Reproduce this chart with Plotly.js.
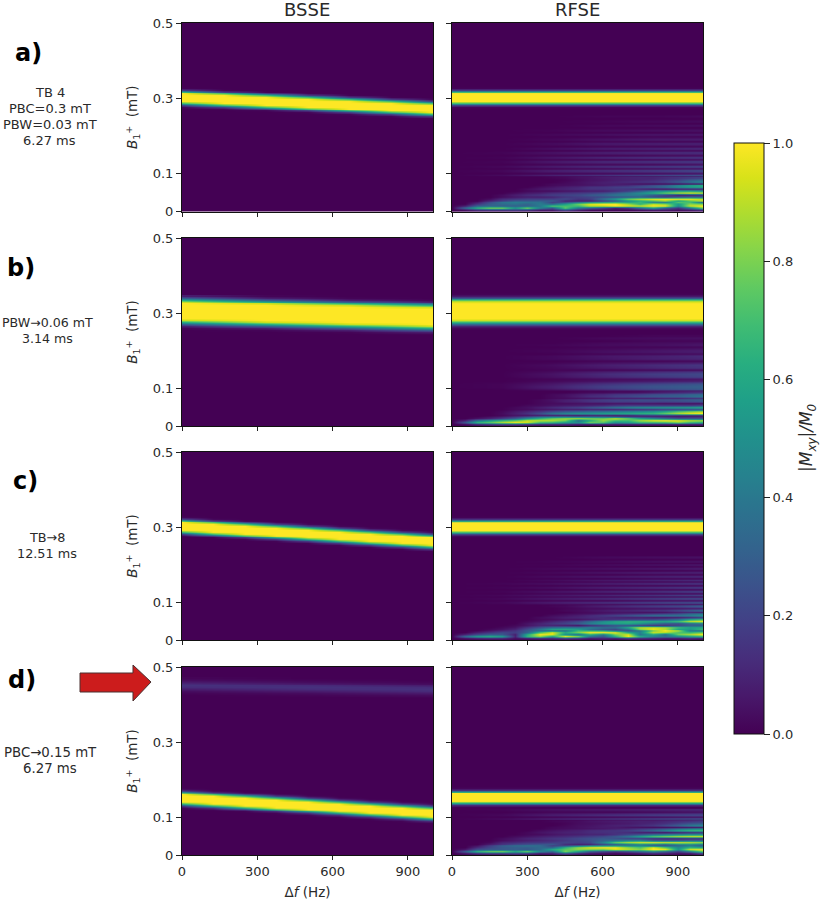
<!DOCTYPE html>
<html>
<head>
<meta charset="utf-8">
<script src="https://cdn.plot.ly/plotly-3.0.1.min.js"></script>
<style>html,body{margin:0;padding:0;background:#fff}</style>
</head>
<body>
<div id="chart" style="width:823px;height:900px"></div>
<script>
// ---- shared tick values and labels ----
const xTicks = [0, 300, 600, 900];
const yTicks = [0, 0.1, 0.3, 0.5];
const yTickLabels = ['0', '0.1', '0.3', '0.5'];
const cbarTicks = [0, 0.2, 0.4, 0.6, 0.8, 1];
const columnTitles = ['BSSE', 'RFSE'];
const rowTags = ['a)', 'b)', 'c)', 'd)'];
const rowNotes = [['TB 4', 'PBC=0.3 mT', 'PBW=0.03 mT', '6.27 ms'], ['PBW→0.06 mT', '3.14 ms'], ['TB→8', '12.51 ms'], ['PBC→0.15 mT', '6.27 ms']];

// ---- BSSE panels: |Mxy|/M0 in percent ----
const bsseAx = [0, 167, 333, 500, 667, 833, 1000];
const bsseAy = [.243,.248,.253,.258,.263,.268,.273,.278,.283,.288,.293,.298,.303,.308,.313,.318,.323,.328,.333];
const bsseAz = [
[0,0,0,0,0,0,0],
[0,0,0,0,0,0,1],
[0,0,0,0,0,1,18],
[0,0,0,0,1,18,70],
[0,0,0,1,18,70,100],
[0,0,1,18,70,100,100],
[0,1,18,70,100,100,100],
[1,18,70,100,100,100,100],
[18,70,100,100,100,100,100],
[70,100,100,100,100,100,70],
[100,100,100,100,100,70,18],
[100,100,100,100,70,18,1],
[100,100,100,70,18,1,0],
[100,100,70,18,1,0,0],
[100,70,18,1,0,0,0],
[70,18,1,0,0,0,0],
[18,1,0,0,0,0,0],
[1,0,0,0,0,0,0],
[0,0,0,0,0,0,0]];

const bsseBx = [0, 333, 667, 1000];
const bsseBy = [.241,.246,.251,.256,.261,.266,.271,.276,.281,.286,.291,.296,.301,.306,.311,.316,.321,.326,.331,.336,.341,.346];
const bsseBz = [
[0,0,0,0],
[0,0,0,1],
[0,0,1,8],
[0,1,8,30],
[1,8,30,62],
[8,30,62,92],
[30,62,92,100],
[62,92,100,100],
[92,100,100,100],
[100,100,100,100],
[100,100,100,100],
[100,100,100,100],
[100,100,100,100],
[100,100,100,100],
[100,100,100,100],
[100,100,100,92],
[100,100,92,62],
[100,92,62,30],
[92,62,30,8],
[62,30,8,1],
[30,8,1,0],
[8,1,0,0]];

const bsseCx = [0, 125, 250, 375, 500, 625, 750, 875, 1000];
const bsseCy = [.233,.238,.243,.248,.253,.258,.263,.268,.273,.278,.283,.288,.293,.298,.303,.308,.313,.318,.323,.328,.333];
const bsseCz = [
[0,0,0,0,0,0,0,0,0],
[0,0,0,0,0,0,0,0,1],
[0,0,0,0,0,0,0,1,18],
[0,0,0,0,0,0,1,18,70],
[0,0,0,0,0,1,18,70,100],
[0,0,0,0,1,18,70,100,100],
[0,0,0,1,18,70,100,100,100],
[0,0,1,18,70,100,100,100,100],
[0,1,18,70,100,100,100,100,100],
[1,18,70,100,100,100,100,100,70],
[18,70,100,100,100,100,100,70,18],
[70,100,100,100,100,100,70,18,1],
[100,100,100,100,100,70,18,1,0],
[100,100,100,100,70,18,1,0,0],
[100,100,100,70,18,1,0,0,0],
[100,100,70,18,1,0,0,0,0],
[100,70,18,1,0,0,0,0,0],
[70,18,1,0,0,0,0,0,0],
[18,1,0,0,0,0,0,0,0],
[1,0,0,0,0,0,0,0,0],
[0,0,0,0,0,0,0,0,0]];

const bsseDx = [0, 125, 250, 375, 500, 625, 750, 875, 1000];
const bsseDy = [.082,.087,.092,.097,.102,.107,.112,.117,.122,.127,.132,.137,.142,.147,.152,.157,.162,.167,.172,.177,.182];
const bsseDz = [
[0,0,0,0,0,0,0,0,0],
[0,0,0,0,0,0,0,0,1],
[0,0,0,0,0,0,0,1,15],
[0,0,0,0,0,0,1,15,65],
[0,0,0,0,0,1,15,65,100],
[0,0,0,0,1,15,65,100,100],
[0,0,0,1,15,65,100,100,100],
[0,0,1,15,65,100,100,100,100],
[0,1,15,65,100,100,100,100,100],
[1,15,65,100,100,100,100,100,65],
[15,65,100,100,100,100,100,65,15],
[65,100,100,100,100,100,65,15,1],
[100,100,100,100,100,65,15,1,0],
[100,100,100,100,65,15,1,0,0],
[100,100,100,65,15,1,0,0,0],
[100,100,65,15,1,0,0,0,0],
[100,65,15,1,0,0,0,0,0],
[65,15,1,0,0,0,0,0,0],
[15,1,0,0,0,0,0,0,0],
[1,0,0,0,0,0,0,0,0],
[0,0,0,0,0,0,0,0,0]];

// faint extra band near 0.45 mT in panel d
const ghostX = [0, 500, 1000];
const ghostY = [.421,.426,.431,.436,.441,.446,.451,.456,.461,.466,.471];
const ghostZ = [
[0,0,1],[0,1,3],[1,3,7],[3,7,12],[7,12,14],[12,14,12],[14,12,7],[12,7,3],[7,3,1],[3,1,0],[1,0,0]];

// ---- RFSE main bands: flat in frequency, one profile each ----
const flatX = [0, 1000];
const bandAy = [.273,.278,.283,.288,.293,.298,.303,.308,.313,.318,.323,.328,.333];
const bandAz = [0,1,18,70,100,100,100,100,100,70,18,1,0];
const bandBy = [.256,.261,.266,.271,.276,.281,.286,.291,.296,.301,.306,.311,.316,.321,.326,.331,.336,.341,.346,.351,.356];
const bandBz = [0,1,8,30,62,92,100,100,100,100,100,100,100,100,100,92,62,30,8,1,0];
const bandCy = [.272,.277,.282,.287,.292,.297,.302,.307,.312,.317,.322,.327,.332];
const bandCz = [0,1,16,66,100,100,100,100,100,66,16,1,0];
const bandDy = [.124,.129,.134,.139,.144,.149,.154,.159,.164,.169,.174,.179,.184];
const bandDz = [0,1,12,60,100,100,100,100,100,60,12,1,0];

// ---- RFSE low-B1 fringes, dense part ----
const lowX = [0,50,100,150,200,250,300,350,400,450,500,550,600,650,700,750,800,850,900,950,1000];
const lowY = [0,.005,.01,.015,.02,.025,.03,.035,.04,.045,.05,.055,.06,.065,.07,.075,.08,.085,.09];
const lowAz = [
[0,0,0,0,0,0,0,0,0,0,0,0,0,0,0,0,0,0,0,0,0],
[0,5,15,18,18,20,18,8,8,25,10,3,2,2,2,5,8,8,5,8,15],
[0,35,65,80,80,55,80,45,28,75,42,30,20,8,15,35,55,30,15,40,80],
[0,8,30,32,30,30,30,40,72,70,70,90,92,100,95,92,100,98,50,92,100],
[0,0,15,30,35,38,32,42,32,55,78,95,100,100,85,65,90,82,55,82,78],
[0,0,5,22,38,42,40,38,18,20,32,42,48,55,55,68,40,40,75,68,30],
[0,0,0,10,18,28,28,30,30,10,8,8,18,28,52,62,72,85,55,75,90],
[0,0,0,3,12,15,18,18,18,22,15,18,38,55,78,90,98,100,100,98,90],
[0,0,0,0,3,6,8,8,10,15,18,20,22,25,28,30,22,18,25,30,30],
[0,0,0,0,3,8,12,15,18,20,22,28,32,40,42,42,30,20,10,10,12],
[0,0,0,0,0,3,6,8,12,14,16,18,22,28,38,48,62,76,88,95,92],
[0,0,0,0,0,0,2,3,3,5,6,8,8,12,18,28,42,50,55,55,50],
[0,0,0,0,0,0,3,6,8,10,12,14,15,16,15,10,6,5,8,10,12],
[0,0,0,0,0,0,0,3,5,8,10,14,15,18,20,25,30,38,50,58,62],
[0,0,0,0,0,0,0,0,2,3,4,5,6,8,10,14,20,26,40,52,60],
[0,0,0,0,0,0,0,0,2,3,4,6,8,8,6,4,3,3,3,5,6],
[0,0,0,0,0,0,0,0,0,2,4,6,8,10,12,14,16,20,28,38,48],
[0,0,0,0,0,0,0,0,0,1,3,5,6,8,9,10,12,16,20,28,34],
[0,0,0,0,0,0,0,0,1,2,4,5,7,8,9,10,10,12,14,16,18]];
const lowBz = [
[0,0,0,0,0,0,0,0,0,0,0,0,0,0,0,0,0,0,0,0,0],
[0,2,8,12,15,15,12,8,8,8,5,3,5,5,5,5,5,5,5,5,5],
[0,28,65,75,88,98,92,68,65,55,50,78,72,50,55,66,66,68,78,66,60],
[0,10,38,55,66,75,92,90,88,78,35,62,84,68,68,86,96,100,98,90,86],
[0,0,5,10,18,30,50,66,78,86,88,82,80,92,78,60,48,38,28,28,28],
[0,0,0,3,6,12,20,30,35,35,30,30,28,22,15,12,10,8,6,8,10],
[0,0,0,0,2,5,6,8,8,8,6,8,8,6,8,12,15,15,12,10,10],
[0,0,0,0,3,8,14,24,38,46,52,52,56,58,60,64,66,76,88,96,100],
[0,0,0,0,2,6,10,15,22,28,32,36,38,42,45,48,52,60,72,80,88],
[0,0,0,0,0,2,3,5,6,8,8,10,10,10,12,14,16,20,22,24,26],
[0,0,0,0,0,2,4,8,12,16,20,26,32,38,44,48,50,52,54,56,60],
[0,0,0,0,0,0,2,3,5,7,8,10,12,16,18,18,18,18,18,18,22],
[0,0,0,0,0,0,0,2,3,3,4,4,4,5,5,5,5,4,4,4,4],
[0,0,0,0,0,0,0,2,4,8,10,14,16,18,18,20,20,20,22,24,26],
[0,0,0,0,0,0,0,2,5,8,12,15,18,20,22,24,24,25,26,28,30],
[0,0,0,0,0,0,0,0,2,3,4,5,6,8,8,8,8,10,10,12,14],
[0,0,0,0,0,0,0,0,2,4,8,12,14,18,20,24,26,28,30,34,38],
[0,0,0,0,0,0,0,0,2,4,7,10,12,16,18,20,24,26,28,32,35],
[0,0,0,0,0,0,0,0,0,0,1,2,2,3,3,4,6,8,10,12,14]];
const lowCz = [
[0,0,0,0,0,0,0,0,0,0,0,0,0,0,0,0,0,0,0,0,0],
[0,3,6,8,8,3,5,8,8,12,10,5,8,5,12,10,8,5,5,8,5],
[0,35,55,62,55,10,65,82,55,100,82,38,28,62,98,62,45,40,45,55,62],
[0,10,22,30,28,8,62,100,95,50,35,62,40,78,95,40,58,35,78,88,100],
[0,0,8,15,22,18,32,72,96,62,80,100,100,98,62,45,92,88,72,68,78],
[0,0,0,5,10,15,28,34,34,35,68,62,58,36,25,40,78,100,88,40,35],
[0,0,0,2,5,10,24,42,60,62,58,36,25,20,36,80,96,88,58,52,68],
[0,0,0,0,2,5,15,26,36,40,40,44,36,36,62,90,94,88,68,58,62],
[0,0,0,0,0,2,5,10,10,8,5,12,18,25,25,20,15,15,22,30,30],
[0,0,0,0,0,0,5,10,15,20,28,42,52,56,58,50,38,28,24,34,40],
[0,0,0,0,0,0,2,5,10,15,22,36,50,60,64,64,62,60,70,92,98],
[0,0,0,0,0,0,0,2,3,5,5,8,12,15,18,20,22,28,38,60,70],
[0,0,0,0,0,0,0,3,5,8,10,12,12,10,8,8,6,6,8,12,18],
[0,0,0,0,0,0,0,0,3,5,8,12,16,20,25,30,36,38,38,42,50],
[0,0,0,0,0,0,0,0,0,2,3,4,6,8,10,12,15,18,22,32,38],
[0,0,0,0,0,0,0,0,0,0,2,3,4,5,5,4,4,5,8,10,8],
[0,0,0,0,0,0,0,0,0,2,3,5,7,9,10,12,14,16,22,28,35],
[0,0,0,0,0,0,0,0,0,1,2,3,3,4,4,5,5,5,6,7,8],
[0,0,0,0,0,0,0,0,1,2,4,6,8,10,12,14,16,18,20,24,28]];
const lowDz = [
[0,0,0,0,0,0,0,0,0,0,0,0,0,0,0,0,0,0,0,0,0],
[0,5,12,15,15,18,15,6,8,22,10,5,3,2,3,5,10,8,4,5,18],
[0,30,65,78,80,62,78,45,32,80,55,28,20,15,22,32,42,30,18,38,75],
[0,6,25,28,28,30,28,35,62,75,82,80,78,92,88,82,100,98,52,95,100],
[0,0,12,22,28,30,30,34,34,65,85,96,100,100,85,74,98,76,48,66,60],
[0,0,4,18,30,35,38,35,18,22,34,44,48,50,45,46,32,28,34,42,28],
[0,0,0,8,15,22,25,28,28,12,8,10,20,26,34,42,36,30,42,44,38],
[0,0,0,2,10,12,15,16,18,20,18,22,45,76,90,96,98,95,95,92,86],
[0,0,0,0,3,6,8,10,12,16,20,24,32,38,44,46,30,28,28,32,32],
[0,0,0,0,3,6,10,12,15,18,22,25,28,25,20,18,12,10,10,12,12],
[0,0,0,0,0,3,5,8,10,12,15,18,22,28,40,58,72,80,88,92,94],
[0,0,0,0,0,0,2,3,5,7,8,10,10,14,20,26,36,42,46,50,50],
[0,0,0,0,0,0,2,5,7,9,10,12,13,14,12,8,6,5,8,12,15],
[0,0,0,0,0,0,0,3,5,7,9,12,14,15,18,24,32,44,58,66,68],
[0,0,0,0,0,0,0,0,2,3,4,5,6,8,10,14,18,24,32,40,46],
[0,0,0,0,0,0,0,0,2,3,4,6,7,7,5,4,3,3,4,5,6],
[0,0,0,0,0,0,0,0,0,2,4,5,7,9,10,12,15,22,30,40,46],
[0,0,0,0,0,0,0,0,0,1,3,4,5,6,7,9,11,14,20,26,30],
[0,0,0,0,0,0,0,0,1,2,3,5,6,7,8,9,9,11,13,15,18]];

// ---- RFSE fine fringes above the dense part ----
const highX = [0, 200, 400, 600, 800, 1000];
const highAy = [.096,.102,.108,.114,.12,.126,.132,.138,.144,.15,.156,.162,.168,.174,.18,.186,.192,.198,.204,.21,.216,.222,.228,.234,.24,.246,.252];
const highAz = [
[0,3,10,16,22,28],[0,0,1,2,3,5],[0,2,9,14,18,24],[0,0,1,2,3,4],[0,2,8,13,17,21],[0,0,1,2,2,4],
[0,1,7,12,15,18],[0,0,1,1,2,3],[0,1,6,11,14,16],[0,0,1,1,2,3],[0,1,5,9,12,14],[0,0,0,1,2,2],
[0,0,4,8,10,12],[0,0,0,1,1,2],[0,0,3,7,9,10],[0,0,0,1,1,1],[0,0,2,5,7,8],[0,0,0,0,1,1],
[0,0,2,4,6,7],[0,0,0,0,0,1],[0,0,1,3,4,5],[0,0,0,0,0,0],[0,0,0,2,3,4],[0,0,0,0,0,0],
[0,0,0,1,2,3],[0,0,0,0,0,0],[0,0,0,1,1,2]];
const highBy = [.096,.102,.108,.114,.12,.126,.132,.138,.144,.15,.156,.162,.168,.174,.18,.186,.192,.198,.204,.21,.216,.222,.228,.234,.24];
const highBz = [
[0,0,3,10,18,25],[0,1,8,18,25,30],[0,1,8,18,25,30],[0,1,6,14,20,26],[0,0,2,4,6,8],[0,0,1,3,4,6],
[0,0,4,10,15,20],[0,0,5,12,18,22],[0,0,3,8,12,16],[0,0,1,1,2,3],[0,0,2,6,10,14],[0,0,3,8,12,16],
[0,0,1,4,6,8],[0,0,0,1,1,2],[0,0,2,5,8,10],[0,0,2,6,8,12],[0,0,0,1,2,3],[0,0,1,4,6,8],
[0,0,1,3,5,7],[0,0,0,1,1,2],[0,0,1,3,4,6],[0,0,0,2,3,4],[0,0,0,0,1,1],[0,0,0,2,3,4],[0,0,0,0,1,1]];
const highCy = [.095,.1,.105,.11,.115,.12,.125,.13,.135,.14,.145,.15,.155,.16,.165,.17,.175,.18,.185,.19,.195,.2,.205,.21,.215,.22];
const highCz = [
[0,0,1,2,3,5],[0,2,8,14,20,26],[0,0,1,1,3,4],[0,2,7,12,18,24],[0,0,1,1,2,3],[0,2,6,11,16,22],
[0,0,1,1,2,3],[0,1,5,10,14,20],[0,0,0,1,2,2],[0,1,4,9,13,18],[0,0,0,1,1,2],[0,1,4,8,12,16],
[0,0,0,1,1,2],[0,0,3,7,10,14],[0,0,0,0,1,1],[0,0,3,6,9,12],[0,0,0,0,1,1],[0,0,2,5,8,10],
[0,0,0,0,0,1],[0,0,2,4,6,8],[0,0,0,0,0,1],[0,0,1,3,5,7],[0,0,0,0,0,0],[0,0,1,2,4,5],
[0,0,0,0,0,0],[0,0,0,2,3,4]];
const highDy = [.096,.102,.108,.114,.12];
const highDz = [[0,3,9,14,20,26],[0,0,1,2,3,5],[0,2,8,13,18,22],[0,0,1,1,2,4],[0,1,4,6,8,10]];

// ---- placement of the page furniture, in page pixels ----
const W = 823, H = 900;
const colsPx = [[182, 433], [452, 703]];
const rowsPx = [[23, 211.5], [238, 426], [452, 640], [667, 855]];
const px = v => v / W, py = v => 1 - v / H;

const pct = rows => rows.map(r => r.map(v => v / 100));
const flat = prof => prof.map(v => [v / 100, v / 100]);
function hm(x, y, z, n) {
  return {type: 'heatmap', x, y, z, zsmooth: 'best', coloraxis: 'coloraxis', hoverinfo: 'skip',
          xaxis: 'x' + (n === 1 ? '' : n), yaxis: 'y' + (n === 1 ? '' : n)};
}
const data = [
  hm(bsseAx, bsseAy, pct(bsseAz), 1),
  hm(flatX, bandAy, flat(bandAz), 2), hm(highX, highAy, pct(highAz), 2), hm(lowX, lowY, pct(lowAz), 2),
  hm(bsseBx, bsseBy, pct(bsseBz), 3),
  hm(flatX, bandBy, flat(bandBz), 4), hm(highX, highBy, pct(highBz), 4), hm(lowX, lowY, pct(lowBz), 4),
  hm(bsseCx, bsseCy, pct(bsseCz), 5),
  hm(flatX, bandCy, flat(bandCz), 6), hm(highX, highCy, pct(highCz), 6), hm(lowX, lowY, pct(lowCz), 6),
  hm(bsseDx, bsseDy, pct(bsseDz), 7), hm(ghostX, ghostY, pct(ghostZ), 7),
  hm(flatX, bandDy, flat(bandDz), 8), hm(highX, highDy, pct(highDz), 8), hm(lowX, lowY, pct(lowDz), 8)
];

const FONT = '"DejaVu Sans", sans-serif', INK = '#2a2a2a', DARK = '#440154';
const layout = {
  width: W, height: H, margin: {l: 0, r: 0, t: 0, b: 0}, showlegend: false,
  paper_bgcolor: '#fff', plot_bgcolor: DARK,
  font: {family: FONT, size: 13, color: INK},
  coloraxis: {
    cmin: 0, cmax: 1, colorscale: 'Viridis',
    colorbar: {
      x: px(734), xanchor: 'left', y: py(734), yanchor: 'bottom', xpad: 0, ypad: 0,
      len: 591, lenmode: 'pixels', thickness: 30, thicknessmode: 'pixels',
      outlinecolor: '#111', outlinewidth: 1, ticks: 'outside', ticklen: 6, tickcolor: '#222',
      tickvals: cbarTicks, tickformat: '.1f', tickfont: {size: 13, color: INK}
    }
  },
  annotations: [], shapes: []
};

rowsPx.forEach((r, ri) => colsPx.forEach((c, ci) => {
  const n = ri * 2 + ci + 1, s = n === 1 ? '' : n;
  layout['xaxis' + s] = {
    domain: [px(c[0]), px(c[1])], range: [0, 1000], anchor: 'y' + s, tickvals: xTicks,
    showticklabels: ri === 3, ticks: 'outside', ticklen: 4, tickcolor: '#222', showgrid: false, zeroline: false,
    showline: true, linecolor: '#111', linewidth: 1, mirror: true, tickfont: {size: 13, color: INK},
    ...(ri === 3 ? {title: {text: 'Δ<i>f</i> (Hz)', font: {size: 13.5, color: INK}, standoff: 9}} : {})
  };
  layout['yaxis' + s] = {
    domain: [py(r[1]), py(r[0])], range: [0, 0.5], anchor: 'x' + s, tickvals: yTicks, ticktext: yTickLabels,
    showticklabels: ci === 0,
    ticks: 'outside', ticklen: 5, tickcolor: '#222', showgrid: false, zeroline: false,
    showline: true, linecolor: '#111', linewidth: 1, mirror: true, tickfont: {size: 13, color: INK},
    ...(ci === 0 ? {title: {text: '<i>B</i><sub>1</sub><sup>+</sup>  (mT)', font: {size: 13.5, color: INK}, standoff: 11}} : {})
  };
}));

const note = (text, x, y, size, extra) => layout.annotations.push(Object.assign(
  {text, x: px(x), y: py(y), xref: 'paper', yref: 'paper', showarrow: false, xanchor: 'center', yanchor: 'middle',
   font: {family: FONT, size, color: INK}}, extra || {}));

note(columnTitles[0], 307, 9, 18);
note(columnTitles[1], 577, 9, 18);
[[28, 53], [21, 268], [25, 481], [22, 680]].forEach((p, i) =>
  note('<b>' + rowTags[i] + '</b>', p[0], p[1], 24, {font: {family: FONT, size: 24, color: '#000'}}));
[[49.5, 92, 13], [47.5, 322, 12.6], [47, 537, 12.8], [50, 752, 13.3]].forEach((p, i) =>
  rowNotes[i].forEach((line, k) => note(line, p[0], p[1] + k * 16, p[2])));
note('<i>|M<sub>xy</sub>|/M<sub>0</sub></i>', 807, 438, 17, {textangle: -90});

const arrow = [[80, 673], [133, 673], [133, 665], [151, 682], [133, 701], [133, 692], [80, 692]];
layout.shapes.push({
  type: 'path', xref: 'paper', yref: 'paper', layer: 'above',
  path: 'M' + arrow.map(p => px(p[0]).toFixed(5) + ',' + py(p[1]).toFixed(5)).join('L') + 'Z',
  fillcolor: '#cc1c1c', line: {color: '#4a3030', width: 1}
});

Plotly.newPlot('chart', data, layout, {displayModeBar: false, responsive: false});
</script>
</body>
</html>
